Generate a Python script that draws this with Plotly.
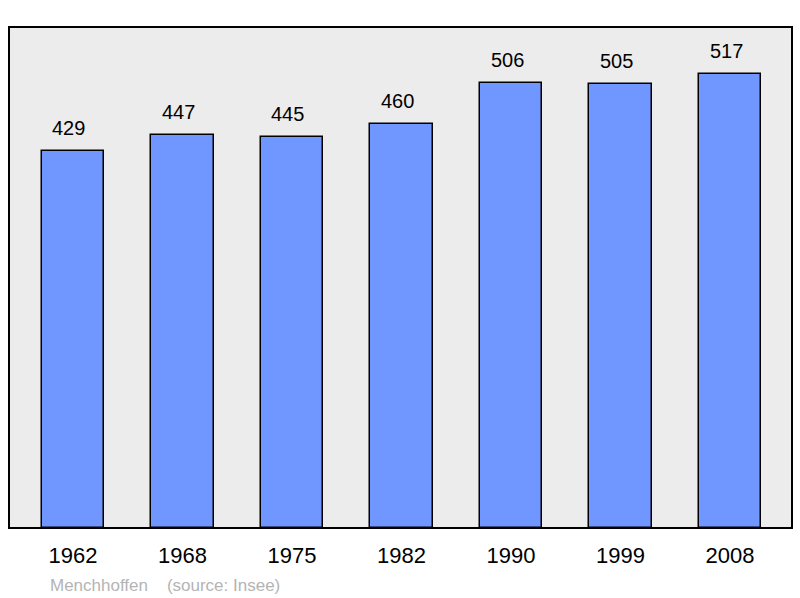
import plotly.graph_objects as go

years = ["1962", "1968", "1975", "1982", "1990", "1999", "2008"]
population = [429, 447, 445, 460, 506, 505, 517]
caption = "Menchhoffen\u00a0\u00a0\u00a0\u00a0(source: Insee)"

FONT = "Liberation Sans, Arial, sans-serif"

fig = go.Figure()
fig.add_trace(go.Bar(
    x=list(range(len(years))),
    y=population,
    width=0.57,
    marker=dict(color="#7096ff", line=dict(color="#000000", width=1.5)),
    hoverinfo="skip",
))

for i, v in enumerate(population):
    fig.add_annotation(x=i, y=v, text=str(v), showarrow=False,
                       xshift=-4, yshift=23, yanchor="middle",
                       font=dict(family=FONT, size=20, color="#000000"))

fig.add_annotation(xref="paper", yref="paper", x=0.0498, y=0,
                   text=caption, showarrow=False, xanchor="left", yanchor="middle",
                   yshift=-57, font=dict(family=FONT, size=17, color="#b4b4b4"))

fig.add_shape(type="rect", xref="paper", yref="paper", x0=0, y0=0, x1=1, y1=1,
              line=dict(color="#000000", width=2), layer="above")

fig.update_layout(
    width=800, height=598,
    margin=dict(l=9, r=8, t=27, b=70),
    paper_bgcolor="#ffffff",
    plot_bgcolor="#ececec",
    showlegend=False,
    bargap=0,
    xaxis=dict(
        range=[-0.584, 6.566],
        tickmode="array",
        tickvals=list(range(len(years))),
        ticktext=years,
        showgrid=False, zeroline=False, showline=False, ticks="",
        ticklabelstandoff=12,
        tickfont=dict(family=FONT, size=22, color="#000000"),
        fixedrange=True,
    ),
    yaxis=dict(
        range=[0, 570],
        showgrid=False, zeroline=False, showline=False,
        showticklabels=False, ticks="",
        fixedrange=True,
    ),
)

fig.write_html("out.html", config={"displayModeBar": False},
               post_script="document.body.style.margin='0';document.body.style.overflow='hidden';")
